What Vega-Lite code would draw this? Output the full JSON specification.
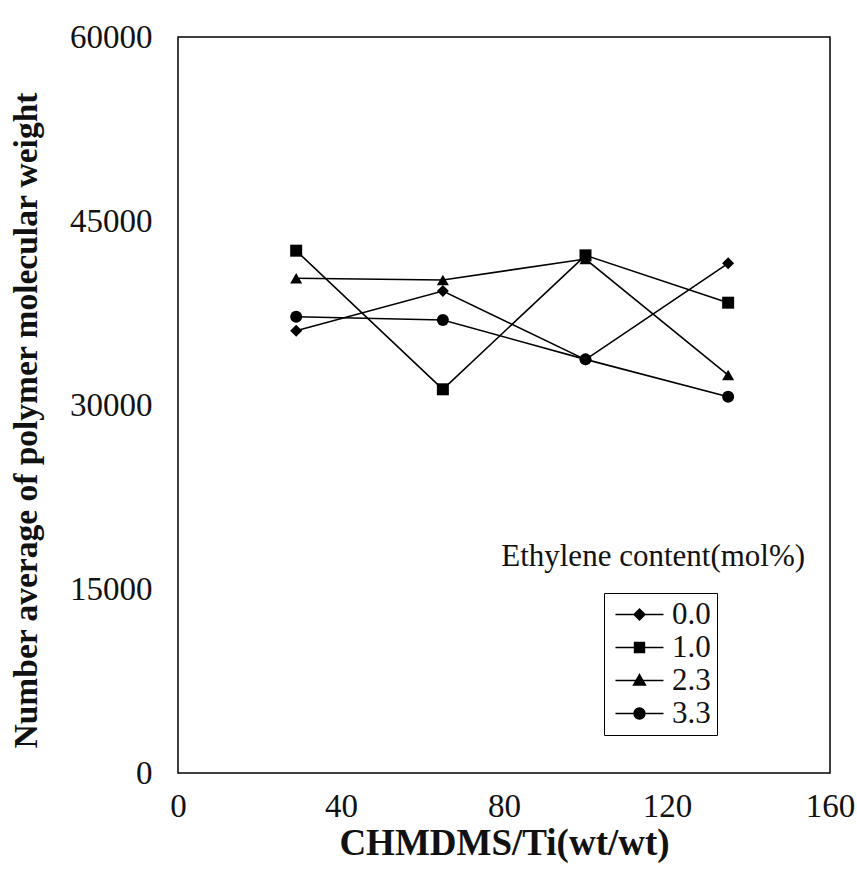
{
  "$schema": "https://vega.github.io/schema/vega-lite/v6.json",
  "width": 652,
  "height": 736,
  "autosize": "none",
  "padding": {"left": 178, "top": 37, "right": 27, "bottom": 99},
  "background": "white",
  "config": {
    "font": "Liberation Serif",
    "view": {"stroke": "black", "strokeWidth": 1.5},
    "axis": {
      "grid": false, "ticks": false, "tickSize": 0, "domain": false, "labelFlush": false,
      "labelFont": "Liberation Serif", "labelFontSize": 33, "labelColor": "#111",
      "titleFont": "Liberation Serif", "titleFontWeight": "bold", "titleColor": "#111"
    },
    "legend": {
      "orient": "none", "legendX": 426, "legendY": 556,
      "strokeColor": "black", "padding": 6,
      "labelFont": "Liberation Serif", "labelFontSize": 31, "labelColor": "#111",
      "symbolSize": 400, "symbolOffset": 14, "labelOffset": 17, "rowPadding": 1,
      "symbolOpacity": 1, "symbolFillColor": "black", "symbolStrokeColor": "black", "symbolStrokeWidth": 1.4
    }
  },
  "resolve": {"scale": {"shape": "independent"}},
  "datasets": {
    "points": [
      {"ratio": 29, "mn": 36060, "series": "0.0"},
      {"ratio": 65, "mn": 39290, "series": "0.0"},
      {"ratio": 100, "mn": 33700, "series": "0.0"},
      {"ratio": 135, "mn": 41550, "series": "0.0"},
      {"ratio": 29, "mn": 42580, "series": "1.0"},
      {"ratio": 65, "mn": 31280, "series": "1.0"},
      {"ratio": 100, "mn": 42200, "series": "1.0"},
      {"ratio": 135, "mn": 38340, "series": "1.0"},
      {"ratio": 29, "mn": 40330, "series": "2.3"},
      {"ratio": 65, "mn": 40190, "series": "2.3"},
      {"ratio": 100, "mn": 41900, "series": "2.3"},
      {"ratio": 135, "mn": 32440, "series": "2.3"},
      {"ratio": 29, "mn": 37200, "series": "3.3"},
      {"ratio": 65, "mn": 36930, "series": "3.3"},
      {"ratio": 100, "mn": 33720, "series": "3.3"},
      {"ratio": 135, "mn": 30680, "series": "3.3"}
    ],
    "legendTitle": [
      {"ratio": 116.6, "mn": 17600, "label": "Ethylene content(mol%)"}
    ]
  },
  "layer": [
    {
      "data": {"name": "points"},
      "mark": {"type": "line", "color": "black", "strokeWidth": 1.6},
      "encoding": {
        "x": {
          "field": "ratio", "type": "quantitative",
          "scale": {"domain": [0, 160], "nice": false},
          "axis": {"values": [0, 40, 80, 120, 160], "title": "CHMDMS/Ti(wt/wt)", "titleFontSize": 37, "labelPadding": 17, "titlePadding": 2}
        },
        "y": {
          "field": "mn", "type": "quantitative",
          "scale": {"domain": [0, 60000], "nice": false},
          "axis": {"values": [0, 15000, 30000, 45000, 60000], "format": "d", "title": "Number average of polymer molecular weight", "titleFontSize": 33.5, "labelPadding": 26, "titlePadding": 26, "titleY": 383}
        },
        "detail": {"field": "series", "type": "nominal"}
      }
    },
    {
      "data": {"name": "points"},
      "mark": {"type": "point", "filled": true, "color": "black", "opacity": 1, "size": 144},
      "encoding": {
        "x": {"field": "ratio", "type": "quantitative"},
        "y": {"field": "mn", "type": "quantitative"},
        "shape": {
          "field": "series", "type": "nominal",
          "scale": {"domain": ["0.0", "1.0", "2.3", "3.3"], "range": ["diamond", "square", "triangle-up", "circle"]},
          "legend": null
        }
      }
    },
    {
      "data": {"name": "points"},
      "mark": {"type": "point", "filled": true, "color": "black", "opacity": 0, "size": 400},
      "encoding": {
        "x": {"field": "ratio", "type": "quantitative"},
        "y": {"field": "mn", "type": "quantitative"},
        "shape": {
          "field": "series", "type": "nominal",
          "scale": {"domain": ["0.0", "1.0", "2.3", "3.3"], "range": [
            "M-2.4,0H2.4M0,-0.55L0.55,0L0,0.55L-0.55,0Z",
            "M-2.4,0H2.4M-0.5,-0.5H0.5V0.5H-0.5Z",
            "M-2.4,0H2.4M0,-0.6L0.6,0.45H-0.6Z",
            "M-2.4,0H2.4M-0.55,0A0.55,0.55,0,1,1,0.55,0A0.55,0.55,0,1,1,-0.55,0Z"
          ]},
          "legend": {
            "title": null,
            "encoding": {
              "symbols": {
                "fill": {"value": "black"},
                "stroke": {"value": "black"},
                "strokeWidth": {"value": 1.4},
                "size": {"value": 400},
                "opacity": {"value": 1}
              }
            }
          }
        }
      }
    },
    {
      "data": {"name": "legendTitle"},
      "mark": {"type": "text", "font": "Liberation Serif", "fontSize": 31, "align": "center", "baseline": "middle", "color": "#111"},
      "encoding": {
        "x": {"field": "ratio", "type": "quantitative"},
        "y": {"field": "mn", "type": "quantitative"},
        "text": {"field": "label", "type": "nominal"}
      }
    }
  ]
}
